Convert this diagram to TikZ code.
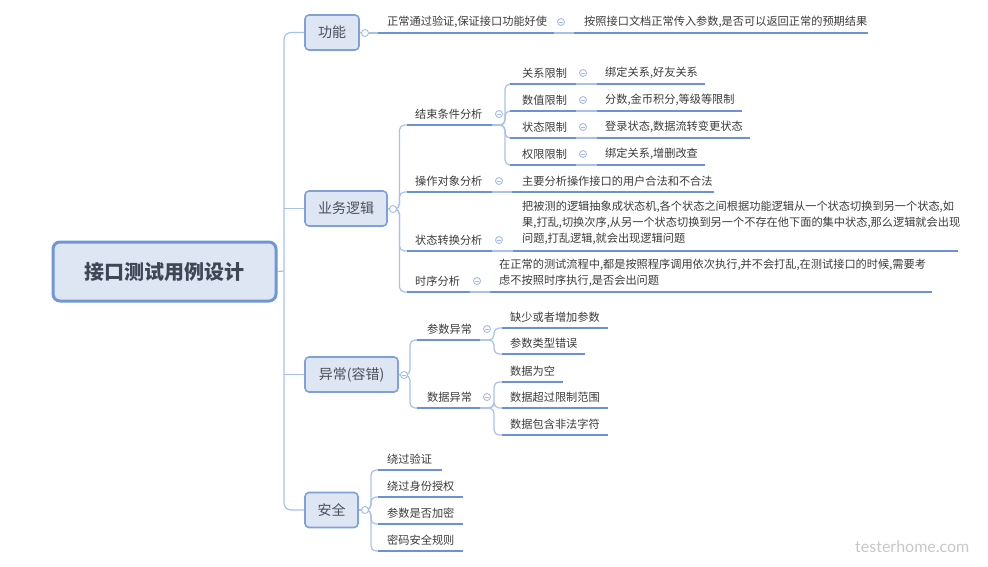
\documentclass[tikz,border=0pt]{standalone}
\usepackage{fontspec}
\setmainfont{Noto Sans CJK SC}
\newfontfamily\wmfont{Lato}
\usetikzlibrary{backgrounds}
\definecolor{ulcol}{HTML}{6A93D6}
\definecolor{conncol}{HTML}{A9C0EA}
\definecolor{boxline}{HTML}{7EA1DC}
\definecolor{rootline}{HTML}{6F97D8}
\definecolor{boxfill}{HTML}{DFE6F3}
\definecolor{txtcol}{HTML}{3B3B3B}
\definecolor{l1txt}{HTML}{4A4F58}
\definecolor{roottxt}{HTML}{3E4756}
\definecolor{circcol}{HTML}{A7BCE4}
\newcommand\mmtopic[7]{%
  \coordinate (#1-l) at (#2,#4);
  \coordinate (#1-r) at (#3,#4);
  \draw[uline] (#1-l) -- (#1-r);
  \node[txt, anchor=west] (#1) at (#5,#6) {#7};
}
\begin{document}
\begin{tikzpicture}[x=1pt,y=-1pt,
  uline/.style={draw=ulcol, line width=2.3pt},
  conn/.style={draw=conncol, line width=1.2pt},
  txt/.style={font=\fontsize{11.2}{16}\selectfont, text=txtcol, inner sep=0pt, align=left},
  l1box/.style={draw=boxline, line width=1.6pt, fill=boxfill, rounded corners=4pt,
    minimum height=35pt, inner sep=0pt, font=\fontsize{14}{16}\selectfont, text=l1txt},
  rootbox/.style={draw=rootline, line width=3pt, fill=boxfill, rounded corners=7pt,
    minimum width=223pt, minimum height=59pt, inner sep=0pt,
    font=\fontsize{20}{22}\selectfont\bfseries, text=roottxt},
  plainc/.style={circle, draw=circcol, fill=white, line width=0.9pt, minimum size=7pt, inner sep=0pt},
  minusc/.style={plainc, path picture={\draw[circcol, line width=0.9pt]
      ([xshift=-2pt]path picture bounding box.center) -- ([xshift=2pt]path picture bounding box.center);}},
]
\useasboundingbox (0,0) rectangle (988,566);

% root and level-1 boxes
\node[rootbox] (root) at (164.5,271.5) {接口测试用例设计};
\node[l1box, minimum width=54pt] (gn) at (332,32.5) {功能};
\node[l1box, minimum width=82pt] (yw) at (346,208.5) {业务逻辑};
\node[l1box, minimum width=93pt] (yc) at (351.5,374.5) {异常(容错)};
\node[l1box, minimum width=53pt] (aq) at (331.5,510) {安全};

% topics
\mmtopic{g1}{378}{554}{33}{387}{22}{正常通过验证,保证接口功能好使}
\mmtopic{g2}{574}{868}{33}{584}{22}{按照接口文档正常传入参数,是否可以返回正常的预期结果}

\mmtopic{jc}{407}{492}{125}{415}{114}{结束条件分析}
\mmtopic{cz}{407}{492}{192}{415}{181}{操作对象分析}
\mmtopic{zt}{407}{492}{251}{415}{240}{状态转换分析}
\mmtopic{sx}{407}{470}{292}{415}{281}{时序分析}

\mmtopic{gx}{510}{576}{84}{522}{73}{关系限制}
\mmtopic{sz}{510}{576}{111}{522}{100}{数值限制}
\mmtopic{zx}{510}{576}{138}{522}{127}{状态限制}
\mmtopic{qx}{510}{576}{165}{522}{154}{权限限制}
\mmtopic{gx1}{597}{705}{84}{605}{73}{绑定关系,好友关系}
\mmtopic{sz1}{597}{742}{111}{605}{100}{分数,金币积分,等级等限制}
\mmtopic{zx1}{597}{750}{138}{605}{127}{登录状态,数据流转变更状态}
\mmtopic{qx1}{597}{705}{165}{605}{154}{绑定关系,增删改查}

\mmtopic{cz1}{512}{714}{192}{522}{181}{主要分析操作接口的用户合法和不合法}
\mmtopic{zt1}{513}{958}{251}{522}{223}{把被测的逻辑抽象成状态机,各个状态之间根据功能逻辑从一个状态切换到另一个状态,如\\果,打乱,切换次序,从另一个状态切换到另一个不存在他下面的集中状态,那么逻辑就会出现\\问题,打乱逻辑,就会出现逻辑问题}
\mmtopic{sx1}{490}{932}{292}{499}{273}{在正常的测试流程中,都是按照程序调用依次执行,并不会打乱,在测试接口的时候,需要考\\虑不按照时序执行,是否会出问题}

\mmtopic{cs}{417}{480}{340}{427}{329}{参数异常}
\mmtopic{sj}{417}{480}{408}{427}{397}{数据异常}
\mmtopic{cs1}{502}{608}{328}{510}{317}{缺少或者增加参数}
\mmtopic{cs2}{502}{585}{354}{510}{343}{参数类型错误}
\mmtopic{sj1}{502}{563}{382}{510}{371}{数据为空}
\mmtopic{sj2}{502}{608}{408}{510}{397}{数据超过限制范围}
\mmtopic{sj3}{502}{608}{435}{510}{424}{数据包含非法字符}

\mmtopic{aq1}{378}{442}{470}{387}{459}{绕过验证}
\mmtopic{aq2}{378}{463}{497}{387}{486}{绕过身份授权}
\mmtopic{aq3}{378}{463}{524}{387}{513}{参数是否加密}
\mmtopic{aq4}{378}{463}{551}{387}{540}{密码安全规则}

% collapse circles
\node[plainc] (gnc) at (365,33) {};
\node[plainc] (ywc) at (393,209) {};
\node[minusc] (ycc) at (404,375) {};
\node[plainc] (aqc) at (365,510) {};
\node[minusc] (g1c) at (561,22) {};
\node[minusc] (jcc) at (499,114) {};
\node[minusc] (czc) at (499,181) {};
\node[minusc] (ztc) at (499,240) {};
\node[minusc] (sxc) at (477,281) {};
\node[minusc] (gxc) at (583,73) {};
\node[minusc] (szc) at (583,100) {};
\node[minusc] (zxc) at (583,127) {};
\node[minusc] (qxc) at (583,154) {};
\node[minusc] (csc) at (487,329) {};
\node[minusc] (sjc) at (487,397) {};

% watermark
\node[font=\wmfont\fontsize{16}{18}\selectfont, text=black!22, anchor=west, inner sep=0pt] (wm) at (855,547) {testerhome.com};

\begin{pgfonlayer}{background}
  \coordinate (tr) at (284,271);
  \draw[conn, rounded corners=7pt] (gn.west) -| (tr) |- (aq.west);
  \draw[conn] (root.east) -- (tr);
  \draw[conn] (yw.west -| tr) -- (yw.west);
  \draw[conn] (yc.west -| tr) -- (yc.west);
  % level-1 to circles
  \draw[conn] (gn.east) -- (gnc.west);
  \draw[conn] (yw.east) -- (ywc.west);
  \draw[conn] (yc.east) -- (ycc.west);
  \draw[conn] (aq.east) -- (aqc.west);
  % 功能
  \draw[conn] (gnc.east) -- (g1-l);
  \draw[conn] (g1-r) -- (g2-l);
  % 业务逻辑
  \foreach \c in {jc,cz,zt,sx}
    \draw[conn, rounded corners=5pt] (ywc.east) -- ++(2.5,0) |- (\c-l);
  \foreach \c in {gx,sz,zx,qx}
    \draw[conn, rounded corners=5pt] (jc-r) -- ++(13,0) |- (\c-l);
  \foreach \c in {gx,sz,zx,qx}
    \draw[conn] (\c-r) -- (\c1-l);
  \draw[conn] (cz-r) -- (cz1-l);
  \draw[conn] (zt-r) -- (zt1-l);
  \draw[conn] (sx-r) -- (sx1-l);
  % 异常
  \foreach \c in {cs,sj}
    \draw[conn, rounded corners=5pt] (ycc.east) -- ++(2,0) |- (\c-l);
  \foreach \c in {cs1,cs2}
    \draw[conn, rounded corners=5pt] (cs-r) -- ++(14,0) |- (\c-l);
  \foreach \c in {sj1,sj2,sj3}
    \draw[conn, rounded corners=5pt] (sj-r) -- ++(14,0) |- (\c-l);
  % 安全
  \foreach \c in {aq1,aq2,aq3,aq4}
    \draw[conn, rounded corners=5pt] (aqc.east) -- ++(2,0) |- (\c-l);
\end{pgfonlayer}
\end{tikzpicture}
\end{document}
